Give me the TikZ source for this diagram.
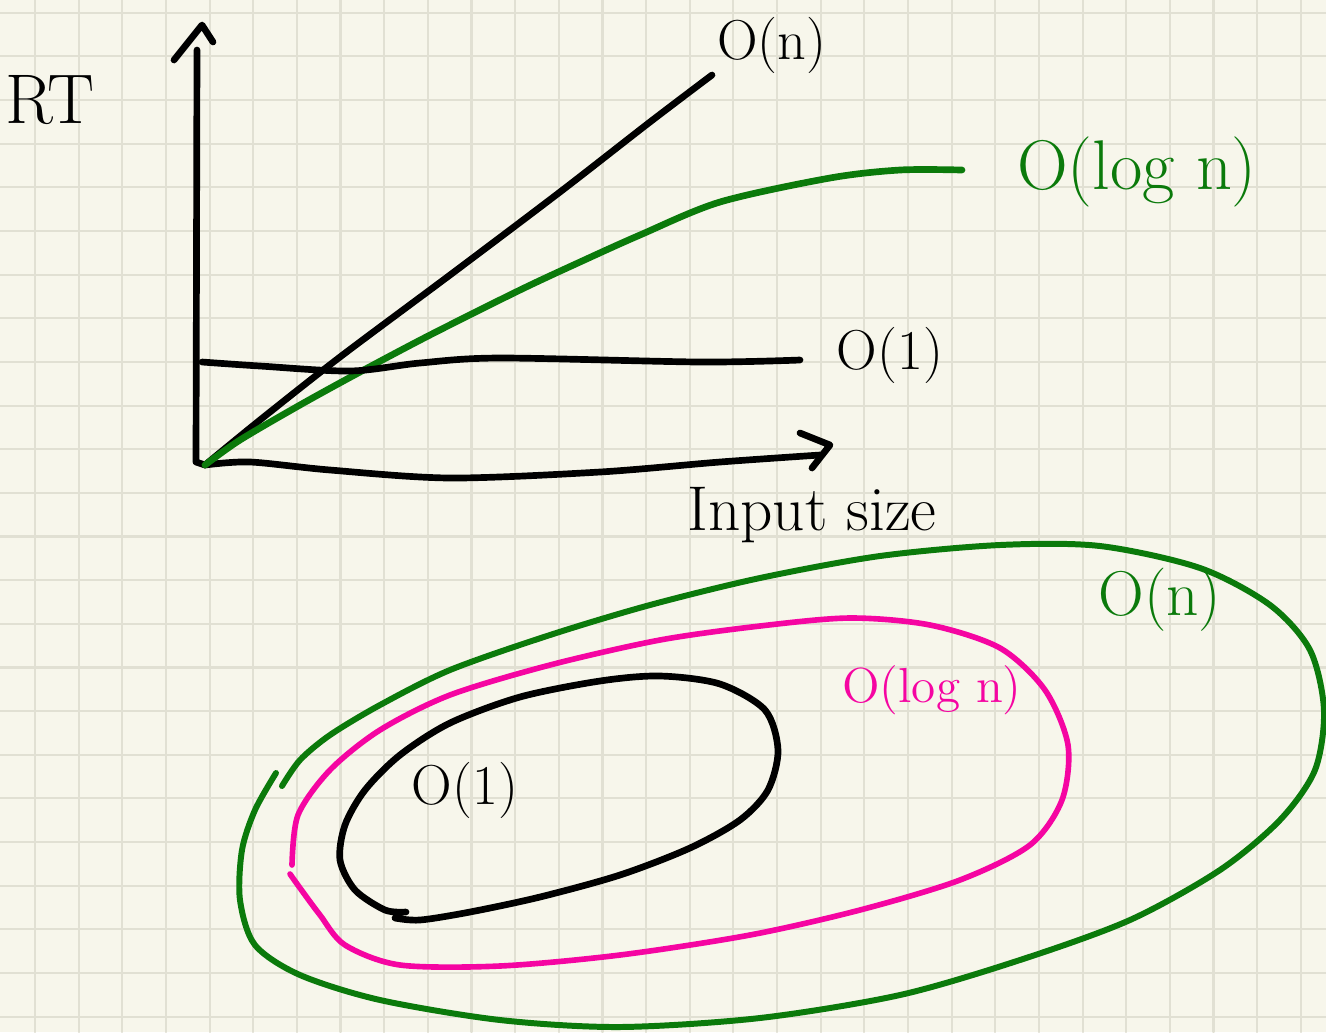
\documentclass[tikz,border=0pt]{standalone}
\usepackage{xcolor}
\usepackage{tikz}
\usetikzlibrary{calc, positioning}

\definecolor{paper}{HTML}{F7F6EB}
\definecolor{gridc}{HTML}{E1E0D3}
\definecolor{inkgreen}{HTML}{0B7A0B}
\definecolor{inkpink}{HTML}{F505A2}

\begin{document}
\begin{tikzpicture}[x=0.01cm, y=-0.01cm, line cap=round, line join=round,
    ink/.style={line width=1.9pt},
    label/.style={inner sep=0pt, font=\fontsize{16}{16}\selectfont}]

    % =================================================================
    % 1. NỀN GIẤY KẺ Ô
    % =================================================================
    \fill[paper] (0,0) rectangle (1326,1032);
    \useasboundingbox (0,0) rectangle (1326,1032);
    \foreach \i in {0,...,29}
        \draw[gridc, line width=0.6pt] ({35+43.65*\i},0) -- ++(0,1032);
    \foreach \j in {0,...,23}
        \draw[gridc, line width=0.6pt] (0,{12.7+43.65*\j}) -- ++(1326,0);

    % =================================================================
    % 2. TỌA ĐỘ CÁC ĐIỂM CHÍNH
    % =================================================================
    \coordinate (O) at (205,465);
    \coordinate (YTop) at (197,50);
    \coordinate (XEnd) at (820,455);

    % =================================================================
    % 3. HAI TRỤC TỌA ĐỘ
    % =================================================================
    \draw[ink] (YTop) -- (196,462) -- (O);
    \draw[ink] (174,60) -- (202,25) -- (213,42);
    \draw[ink] plot[smooth] coordinates
        {(O) (250,462) (330,470) (450,478) (600,472) (720,462) (XEnd)};
    \draw[ink] (800,433) -- (830,445) -- (812,468);

    % =================================================================
    % 4. CÁC ĐƯỜNG ĐỘ PHỨC TẠP
    % =================================================================
    % O(n)
    \draw[ink] plot[smooth] coordinates
        {(O) (260,420) (340,357) (450,275) (560,192) (650,122) (712,75)};
    % O(log n)
    \draw[ink, inkgreen, line width=1.9pt] plot[smooth] coordinates
        {(O) (240,440) (300,405) (360,372) (430,335) (520,290) (580,262)
         (640,235) (720,202) (830,178) (900,170) (962,170)};
    % O(1)
    \draw[ink] plot[smooth] coordinates
        {(202,362) (260,366) (350,371) (420,363) (500,358) (700,362) (800,360)};

    % =================================================================
    % 5. CÁC TẬP LỒNG NHAU
    % =================================================================
    % O(n)
    \draw[ink, inkgreen, line width=1.7pt] plot[smooth] coordinates
        {(282,786) (300,760) (330,735) (380,705) (450,670) (550,635) (650,605)
         (760,578) (880,556) (1000,545) (1100,546) (1200,568) (1270,605)
         (1310,650) (1324,710) (1315,770) (1280,820) (1220,870) (1130,920)
         (1020,960) (900,995) (760,1018) (620,1027) (500,1020) (380,1000)
         (300,975) (255,945) (240,900) (242,850) (255,810) (276,773)};
    % O(log n)
    \draw[ink, inkpink, line width=1.6pt] plot[smooth] coordinates
        {(292,865) (298,815) (330,770) (380,730) (450,695) (550,665) (660,640)
         (760,626) (850,618) (930,625) (1000,648) (1045,690) (1068,745)
         (1062,800) (1030,845) (960,880) (860,910) (750,935) (620,955)
         (500,966) (400,965) (345,945) (320,915) (300,888) (290,874)};
    % O(1)
    \draw[ink] plot[smooth] coordinates
        {(406,912) (385,910) (355,890) (340,860) (345,825) (365,790) (400,755)
         (450,723) (520,697) (600,681) (660,676) (720,684) (765,710) (778,750)
         (768,790) (740,820) (690,848) (620,875) (540,897) (470,912)
         (420,920) (395,918)};

    % =================================================================
    % 6. NHÃN
    % =================================================================
    \node[label, font=\fontsize{20}{20}\selectfont] (rt) at (50,100) {RT};
    \node[label] (on) at (772,45) {O(n)};
    \node[label, inkgreen, font=\fontsize{20}{20}\selectfont] (ologn) at (1137,172) {O(log n)};
    \node[label] (oone) at (890,355) {O(1)};
    \node[label, font=\fontsize{18}{18}\selectfont] (input) at (812,515) {Input size};
    \node[label, inkgreen, font=\fontsize{18}{18}\selectfont] (setn) at (1160,600) {O(n)};
    \node[label, inkpink, font=\fontsize{14}{14}\selectfont] (setlogn) at (932,690) {O(log n)};
    \node[label] (setone) at (465,790) {O(1)};

\end{tikzpicture}
\end{document}
